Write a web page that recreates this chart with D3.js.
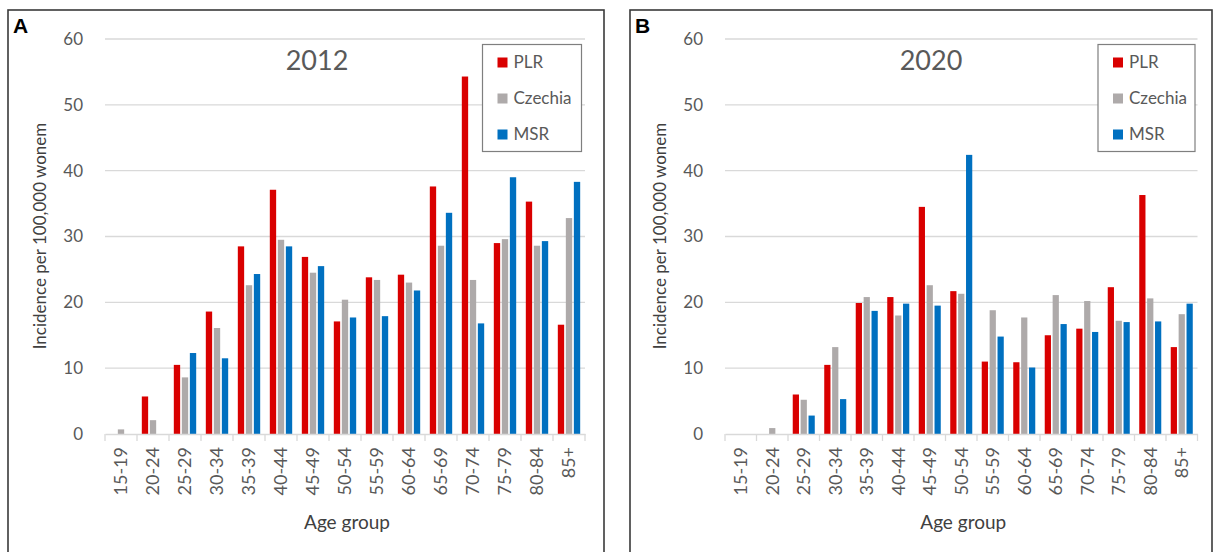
<!DOCTYPE html>
<html>
<head>
<meta charset="utf-8">
<script src="https://cdn.jsdelivr.net/npm/d3@7"></script>
<style>
  body { margin: 0; background: #fff; }
  svg { display: block; font-family: Lato, "Open Sans", sans-serif; }
</style>
</head>
<body>
<svg id="chart" width="1215" height="552"></svg>
<script>
var ageGroups = ["15-19", "20-24", "25-29", "30-34", "35-39", "40-44", "45-49", "50-54",
                 "55-59", "60-64", "65-69", "70-74", "75-79", "80-84", "85+"];
var seriesNames = ["PLR", "Czechia", "MSR"];
var seriesColors = ["#d90000", "#aeaaaa", "#0070c0"];
var yTicks = [0, 10, 20, 30, 40, 50, 60];

var plr2012     = [0, 5.7, 10.5, 18.6, 28.5, 37.1, 26.9, 17.1, 23.8, 24.2, 37.6, 54.3, 29.0, 35.3, 16.6];
var czechia2012 = [0.7, 2.1, 8.6, 16.1, 22.6, 29.5, 24.5, 20.4, 23.4, 23.0, 28.6, 23.4, 29.6, 28.6, 32.8];
var msr2012     = [0, 0, 12.3, 11.5, 24.3, 28.5, 25.5, 17.7, 17.9, 21.8, 33.6, 16.8, 39.0, 29.3, 38.3];

var plr2020     = [0, 0, 6.0, 10.5, 19.9, 20.8, 34.5, 21.7, 11.0, 10.9, 15.0, 16.0, 22.3, 36.3, 13.2];
var czechia2020 = [0, 0.9, 5.2, 13.2, 20.8, 18.0, 22.6, 21.3, 18.8, 17.7, 21.1, 20.2, 17.2, 20.6, 18.2];
var msr2020     = [0, 0, 2.8, 5.3, 18.7, 19.8, 19.5, 42.4, 14.8, 10.1, 16.7, 15.5, 17.0, 17.1, 19.8];

var svg = d3.select("#chart");

function drawPanel(p) {
  var g = svg.append("g");

  // panel frame
  g.append("rect")
    .attr("x", p.boxX).attr("y", 10)
    .attr("width", p.boxW).attr("height", 560)
    .attr("fill", "none").attr("stroke", "#3a3a3a").attr("stroke-width", 1.6);

  g.append("text")
    .attr("x", p.boxX + 5).attr("y", 33)
    .attr("font-family", "Liberation Sans, Arial, sans-serif")
    .attr("font-weight", "bold").attr("font-size", 21)
    .attr("fill", "#000")
    .text(p.letter);

  var x0 = d3.scaleBand().domain(ageGroups).range([p.left, p.right]).padding(0);
  var x1 = d3.scaleBand().domain(seriesNames).range([0, x0.bandwidth()])
    .paddingInner(0.21).paddingOuter(0.6);
  var y = d3.scaleLinear().domain([0, 60]).range([434, 39]);

  // gridlines
  g.selectAll(".grid").data(yTicks.filter(function(d) { return d > 0; }))
    .enter().append("line")
    .attr("x1", p.left).attr("x2", p.right)
    .attr("y1", function(d) { return y(d); }).attr("y2", function(d) { return y(d); })
    .attr("stroke", "#d9d9d9").attr("stroke-width", 1.3);

  // y tick labels
  g.selectAll(".ylab").data(yTicks)
    .enter().append("text")
    .attr("x", p.left - 22).attr("y", function(d) { return y(d); })
    .attr("dy", "0.35em")
    .attr("text-anchor", "end")
    .attr("font-size", 17).attr("fill", "#595959")
    .text(function(d) { return d; });

  // bars
  var rows = ageGroups.map(function(a, i) {
    return seriesNames.map(function(s, j) {
      return { age: a, series: s, color: seriesColors[j], value: p.values[j][i] };
    });
  });
  g.selectAll(".grp").data(rows).enter().append("g")
    .attr("transform", function(d) { return "translate(" + x0(d[0].age) + ",0)"; })
    .selectAll("rect").data(function(d) { return d; })
    .enter().append("rect")
    .attr("x", function(d) { return x1(d.series); })
    .attr("width", x1.bandwidth())
    .attr("y", function(d) { return y(d.value); })
    .attr("height", function(d) { return y(0) - y(d.value); })
    .attr("fill", function(d) { return d.color; });

  // x axis
  var xAxis = d3.axisBottom(x0).tickSize(0).tickPadding(0);
  var ax = g.append("g").attr("transform", "translate(0,434)").call(xAxis);
  ax.select(".domain").attr("stroke", "#d9d9d9").attr("stroke-width", 1.3);
  ax.selectAll(".tick text")
    .attr("font-family", "Lato, sans-serif")
    .attr("font-size", 18).attr("fill", "#595959")
    .attr("text-anchor", "end")
    .attr("transform", "rotate(-90)")
    .attr("x", -13).attr("y", 0).attr("dy", "0.35em");
  var bounds = ageGroups.map(function(a) { return x0(a); }).concat([p.right]);
  g.selectAll(".xtick").data(bounds).enter().append("line")
    .attr("x1", function(d) { return d; }).attr("x2", function(d) { return d; })
    .attr("y1", 434).attr("y2", 441)
    .attr("stroke", "#d9d9d9").attr("stroke-width", 1.3);

  // axis titles
  g.append("text")
    .attr("x", (p.left + p.right) / 2 + 2).attr("y", 529)
    .attr("text-anchor", "middle")
    .attr("font-size", 19).attr("fill", "#404040")
    .text("Age group");
  g.append("text")
    .attr("transform", "translate(" + (p.left - 65) + ",236) rotate(-90)")
    .attr("text-anchor", "middle").attr("dy", "0.35em")
    .attr("font-size", 17).attr("fill", "#404040")
    .text("Incidence per 100,000 wonem");

  // chart title
  g.append("text")
    .attr("x", p.titleX).attr("y", 70)
    .attr("text-anchor", "middle")
    .attr("font-size", 27).attr("fill", "#595959")
    .text(p.title);

  // legend
  var lg = g.append("g").attr("transform", "translate(" + p.legX + ",44.5)");
  lg.append("rect").attr("width", p.legW).attr("height", 107)
    .attr("fill", "#fff").attr("stroke", "#7f7f7f").attr("stroke-width", 1.2);
  var item = lg.selectAll(".li").data(seriesNames).enter().append("g")
    .attr("transform", function(d, i) { return "translate(15," + (18 + i * 36) + ")"; });
  item.append("rect").attr("y", -5).attr("width", 10).attr("height", 10)
    .attr("fill", function(d, i) { return seriesColors[i]; });
  item.append("text").attr("x", 16).attr("dy", "0.35em")
    .attr("font-size", 17).attr("fill", "#595959")
    .text(function(d) { return d; });
}

drawPanel({ letter: "A", title: "2012", boxX: 8, boxW: 596, left: 105, right: 585,
            titleX: 317, legX: 482.5, legW: 99,
            values: [plr2012, czechia2012, msr2012] });
drawPanel({ letter: "B", title: "2020", boxX: 630, boxW: 582, left: 725, right: 1197.5,
            titleX: 931, legX: 1098, legW: 97,
            values: [plr2020, czechia2020, msr2020] });
</script>
</body>
</html>
